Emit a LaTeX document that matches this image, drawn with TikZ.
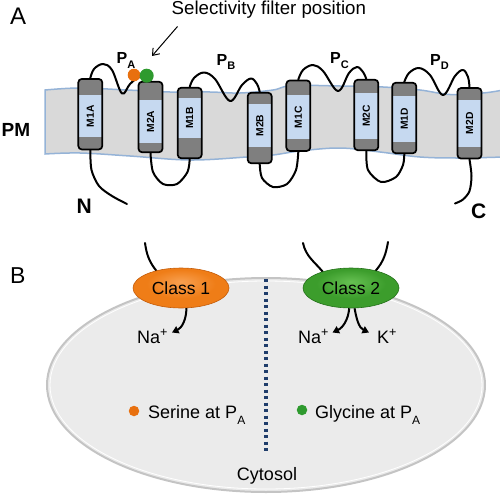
\documentclass[tikz,border=0pt]{standalone}
\usepackage{fontspec}
\usepackage{graphicx}
\setmainfont{Liberation Sans}
\usetikzlibrary{arrows.meta,shapes.geometric}
\newcommand\myfs[1]{\fontsize{#1}{#1}\selectfont}
\definecolor{membfill}{HTML}{D9D9D9}
\definecolor{membedge}{HTML}{95B3D7}
\definecolor{capgray}{HTML}{7F7F7F}
\definecolor{helixblue}{HTML}{C6D9F0}
\definecolor{dotorange}{HTML}{E8700F}
\definecolor{dotgreen}{HTML}{2E9A2E}
\definecolor{cytfill}{HTML}{EBEBEB}
\definecolor{cytedge}{HTML}{C4C4C4}
\definecolor{navy}{HTML}{1F3D6B}
\definecolor{oa}{HTML}{F8A050}
\definecolor{ob}{HTML}{EF7D17}
\definecolor{oc}{HTML}{C45C0A}
\definecolor{ga}{HTML}{66C052}
\definecolor{gb}{HTML}{3C9D2C}
\definecolor{gc}{HTML}{24701A}
\pgfdeclareradialshading{classorange}{\pgfpoint{0bp}{8bp}}{color(0bp)=(oa); color(18bp)=(ob); color(40bp)=(ob); color(50bp)=(oc)}
\pgfdeclareradialshading{classgreen}{\pgfpoint{0bp}{8bp}}{color(0bp)=(ga); color(18bp)=(gb); color(40bp)=(gb); color(50bp)=(gc)}
\tikzset{
  helixbox/.style 2 args={draw=black, line width=1.7pt, rounded corners=3.5pt,
    fill=helixblue, minimum width=24pt, minimum height=70.5pt, inner sep=0pt,
    font=\myfs{10.3}\bfseries,
    path picture={
      \fill[capgray, sharp corners] (path picture bounding box.north west) rectangle ([yshift=-#1pt]path picture bounding box.north east);
      \fill[capgray, sharp corners] (path picture bounding box.south west) rectangle ([yshift=#2pt]path picture bounding box.south east);
    }},
  tmloop/.style={line width=2pt, line join=round, line cap=round},
  classnode/.style={ellipse, minimum width=96pt, minimum height=40pt, inner sep=0pt, font=\myfs{17.5}},
  ionarrow/.style={line width=2pt, -{Triangle[length=6.5pt,width=7.5pt]}},
  lbl/.style={inner sep=0pt, anchor=base west},
}
\newcommand\helix[6]{%
  \node[helixbox={#4}{#5}] (#1) at (#2,#3) {\rotatebox{90}{\hspace*{#5pt}#6\hspace*{#4pt}}};}
\newcommand\Psub[2]{{\myfs{16}\bfseries #1\raisebox{-0.3em}{\myfs{11}\bfseries #2}}}
\begin{document}
\begin{tikzpicture}[x=1pt,y=-1pt]
\useasboundingbox (0,0) rectangle (500,495);

% ---------------- Panel A ----------------
\filldraw[fill=membfill, draw=membedge, line width=1.5pt]
  plot[smooth, tension=0.6] coordinates {(45,90) (80,88) (127,90) (170,92) (210,92) (240,93) (273,90) (292,85.5) (340,86) (383,87) (420,90) (450,94.5) (483,93) (503,90)}
  -- plot[smooth, tension=0.6] coordinates {(503,157) (460,158) (420,157) (380,152) (340,148) (300,151) (273,155) (247,157) (190,160) (130,156) (80,153) (45,154)}
  -- cycle;

\helix{M1A}{90.3}{114.2}{16}{12}{M1A}
\helix{M2A}{150.5}{117}{18}{9}{M2A}
\helix{M1B}{189.7}{123}{10}{20}{M1B}
\helix{M2B}{259.7}{128}{11}{16}{M2B}
\helix{M1C}{298.3}{115.7}{15}{12}{M1C}
\helix{M2C}{366.3}{115}{13}{11}{M2C}
\helix{M1D}{404.3}{118}{13}{11}{M1D}
\helix{M2D}{469.5}{123.3}{12}{12}{M2D}

\coordinate (Nend) at (127,204);
\coordinate (Cend) at (455,203.5);

% N tail
\draw[tmloop] plot[smooth] coordinates {(M1A.south) (91.5,170) (99,186) (112,196) (Nend)};
% P_A loop
\draw[tmloop] plot[smooth, tension=0.6] coordinates {(M1A.north) (94,69) (103,64) (112,70) (122,93.5) (130,84) (140,77) (M2A.north)};
% M2A - M1B
\draw[tmloop] plot[smooth] coordinates {(M2A.south) (153,172) (163,184) (177,184) (187.5,172) (M1B.south)};
% P_B loop
\draw[tmloop] plot[smooth, tension=0.6] coordinates {(M1B.north) (194,78) (204,72.5) (215,79) (230,101) (242,85) (251,78.5) (257,84) (M2B.north)};
% M2B - M1C
\draw[tmloop] plot[smooth] coordinates {(M2B.south) (262,178) (273,187) (287,184) (296,170) (M1C.south)};
% P_C loop
\draw[tmloop] plot[smooth, tension=0.6] coordinates {(M1C.north) (303,70) (313,65) (323,71) (338,91) (349,73) (357,67) (363,72) (M2C.north)};
% M2C - M1D
\draw[tmloop] plot[smooth] coordinates {(M2C.south) (368,170) (381,182) (396,177) (403,165) (M1D.south)};
% P_D loop
\draw[tmloop] plot[smooth, tension=0.6] coordinates {(M1D.north) (409,73) (419,68) (430,75) (443,95) (455,76) (463,70) (468,77) (M2D.north)};
% C tail
\draw[tmloop] plot[smooth] coordinates {(M2D.south) (471.5,176) (469.5,191) (463,199.5) (Cend)};

% selectivity filter residues
\node[circle, fill=dotorange, minimum size=12.6pt, inner sep=0pt] (serA) at (134,75) {};
\node[circle, fill=dotgreen, minimum size=14pt, inner sep=0pt] (glyA) at (146.7,75.7) {};

% labels
\node[lbl, font=\myfs{24}] (labA) at (10,25) {A};
\node[lbl, font=\myfs{18.7}] (sel) at (171.5,15) {Selectivity filter position};
\coordinate (selfrom) at (177.5,26.5);
\coordinate (selto) at (152,56);
\draw[line width=1pt, -{Straight Barb[length=6pt,width=9pt]}] (selfrom) -- (selto);

\node[lbl] (PA) at (116.5,63.3) {\Psub{P}{A}};
\node[lbl] (PB) at (216.5,65) {\Psub{P}{B}};
\node[lbl] (PC) at (330,63.3) {\Psub{P}{C}};
\node[lbl] (PD) at (430,65) {\Psub{P}{D}};
\node[lbl, font=\myfs{19}\bfseries] (PM) at (1.5,136) {PM};
\node[lbl, font=\myfs{21}\bfseries] (Nlab) at (76.5,213) {N};
\node[lbl, font=\myfs{21}\bfseries] (Clab) at (471,218) {C};

% ---------------- Panel B ----------------
\node[lbl, font=\myfs{23}] (labB) at (10,283.3) {B};

\node[ellipse, minimum width=438pt, minimum height=214pt, inner sep=0pt,
      fill=cytfill, draw=cytedge, line width=2pt] (cyt) at (266,385) {};
\node[ellipse, minimum width=432pt, minimum height=208pt, inner sep=0pt,
      draw=white, line width=0.8pt] (cytin) at (266,385) {};

\coordinate (dtop) at (266,279);
\coordinate (dbot) at (266,453);
\draw[navy, line width=3.3pt, dash pattern=on 3.3pt off 3.2pt] (dtop) -- (dbot);

\coordinate (c1in) at (145,243);
\coordinate (c2inl) at (303,243);
\coordinate (c2inr) at (388,242);
\node[classnode] (c1pos) at (181,288) {};
\node[classnode] (c2pos) at (351,288) {};
\draw[tmloop] (c1in) to[out=-82,in=128] (c1pos.145);
\draw[tmloop] (c2inl) to[out=-78,in=130] (c2pos.150);
\draw[tmloop] (c2inr) to[out=-100,in=50] (c2pos.35);

\node[classnode, shade, shading=classorange, draw=oc, line width=0.6pt] (class1) at (181,288) {Class 1};
\node[classnode, shade, shading=classgreen, draw=gc, line width=0.6pt] (class2) at (351,288) {Class 2};

\node[lbl, font=\myfs{18}] (na1) at (137,343) {Na\textsuperscript{+}};
\node[lbl, font=\myfs{18}] (na2) at (298,343) {Na\textsuperscript{+}};
\node[lbl, font=\myfs{18}] (k2) at (377,343) {K\textsuperscript{+}};

\coordinate (na1tip) at (172,332.5);
\coordinate (na2tip) at (332.5,332.5);
\coordinate (k2tip) at (369,332.5);
\draw[ionarrow] (class1.-75) to[out=-90,in=25] (na1tip);
\draw[ionarrow] (class2.-95) to[out=-95,in=25] (na2tip);
\draw[ionarrow] (class2.-80) to[out=-80,in=155] (k2tip);

\node[circle, fill=dotorange, minimum size=10.5pt, inner sep=0pt] (serdot) at (134,411) {};
\node[lbl, font=\myfs{18}] (sertxt) at (148,418) {Serine at P\raisebox{-0.35em}{\myfs{12}A}};
\node[circle, fill=dotgreen, minimum size=10.5pt, inner sep=0pt] (glydot) at (302,410) {};
\node[lbl, font=\myfs{18}] (glytxt) at (315,418) {Glycine at P\raisebox{-0.35em}{\myfs{12}A}};

\node[inner sep=0pt, anchor=base, font=\myfs{18}] (cytlab) at (267,480.5) {Cytosol};
\end{tikzpicture}
\end{document}
